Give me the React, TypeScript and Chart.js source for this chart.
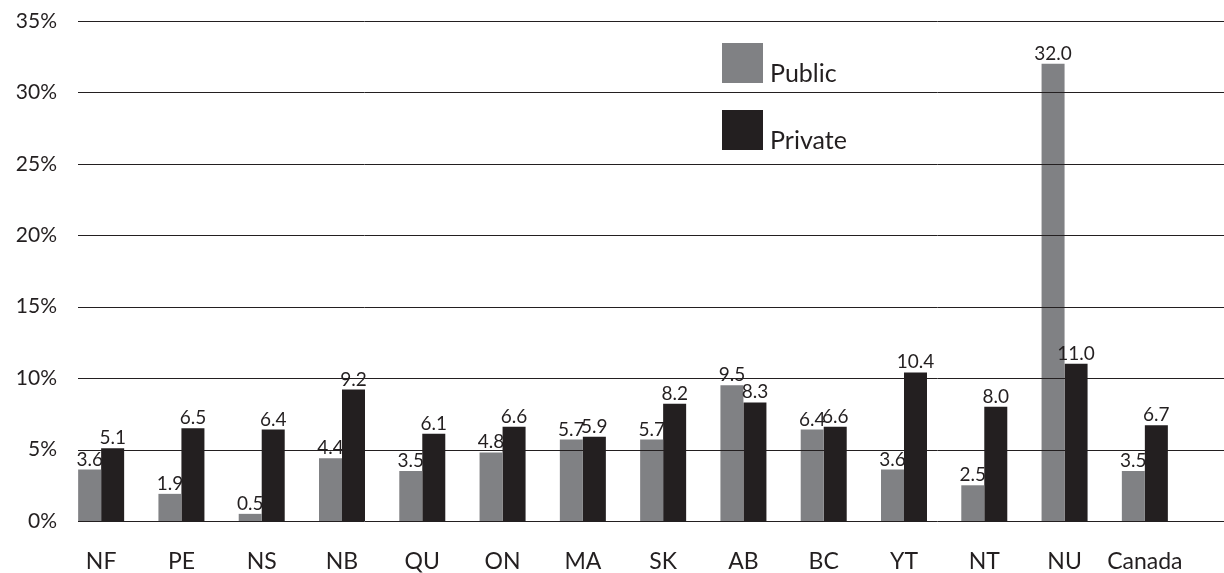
import React, { useEffect, useRef } from "react";
import { Chart, registerables } from "chart.js";

Chart.register(...registerables);

const categories = ["NF", "PE", "NS", "NB", "QU", "ON", "MA", "SK", "AB", "BC", "YT", "NT", "NU", "Canada"];
const publicValues = [3.6, 1.9, 0.5, 4.4, 3.5, 4.8, 5.7, 5.7, 9.5, 6.4, 3.6, 2.5, 32.0, 3.5];
const privateValues = [5.1, 6.5, 6.4, 9.2, 6.1, 6.6, 5.9, 8.2, 8.3, 6.6, 10.4, 8.0, 11.0, 6.7];
const yTicks = [0, 5, 10, 15, 20, 25, 30, 35];
const seriesNames = ["Public", "Private"];
const seriesColors = ["#808184", "#231f20"];

const FONT = "Lato, 'Open Sans', sans-serif";
const INK = "#231f20";

const gridOverPlugin = {
  id: "gridOver",
  afterDatasetsDraw(chart: any) {
    const ctx = chart.ctx;
    const y = chart.scales.y;
    ctx.save();
    ctx.strokeStyle = INK;
    ctx.lineWidth = 1;
    const x0 = chart.chartArea.left + 17;
    yTicks.forEach((v) => {
      const py = Math.round(y.getPixelForValue(v)) + 0.5;
      ctx.beginPath();
      ctx.moveTo(x0, py);
      ctx.lineTo(chart.width, py);
      ctx.stroke();
    });
    ctx.restore();
  },
};

const valueLabelPlugin = {
  id: "valueLabels",
  afterDatasetsDraw(chart: any) {
    const ctx = chart.ctx;
    ctx.save();
    ctx.font = `19px ${FONT}`;
    ctx.fillStyle = INK;
    ctx.textAlign = "center";
    ctx.textBaseline = "alphabetic";
    chart.data.datasets.forEach((ds: any, di: number) => {
      const meta = chart.getDatasetMeta(di);
      meta.data.forEach((el: any, i: number) => {
        ctx.fillText(Number(ds.data[i]).toFixed(1), el.x, el.y - 4);
      });
    });
    ctx.restore();
  },
};

const legendPlugin = {
  id: "customLegend",
  afterDraw(chart: any) {
    const ctx = chart.ctx;
    ctx.save();
    const bx = 722;
    const tops = [43, 110];
    ctx.font = `25px ${FONT}`;
    ctx.textAlign = "left";
    ctx.textBaseline = "alphabetic";
    seriesNames.forEach((name, i) => {
      ctx.fillStyle = seriesColors[i];
      ctx.fillRect(bx, tops[i], 41, 40);
      ctx.fillStyle = INK;
      ctx.fillText(name, bx + 48, tops[i] + 39);
    });
    ctx.restore();
  },
};

export default function App() {
  const ref = useRef<HTMLCanvasElement | null>(null);

  useEffect(() => {
    if (!ref.current) return;
    const chart = new Chart(ref.current, {
      type: "bar",
      data: {
        labels: categories,
        datasets: [
          {
            label: seriesNames[0],
            data: publicValues,
            backgroundColor: seriesColors[0],
            categoryPercentage: 0.573,
            barPercentage: 1,
          },
          {
            label: seriesNames[1],
            data: privateValues,
            backgroundColor: seriesColors[1],
            categoryPercentage: 0.573,
            barPercentage: 1,
          },
        ],
      },
      options: {
        animation: false,
        responsive: false,
        maintainAspectRatio: false,
        layout: { padding: { top: 21, right: 39, bottom: 0, left: 0 } },
        plugins: {
          legend: { display: false },
          tooltip: { enabled: false },
        },
        scales: {
          x: {
            grid: { display: false, drawTicks: false },
            border: { display: false },
            ticks: {
              color: INK,
              font: { family: FONT, size: 23 },
              padding: 27,
              maxRotation: 0,
              autoSkip: false,
            },
            afterFit: (s: any) => {
              s.height = 52;
            },
          },
          y: {
            min: 0,
            max: 35,
            grid: { display: false, drawTicks: false },
            border: { display: false },
            afterBuildTicks: (s: any) => {
              s.ticks = yTicks.map((v) => ({ value: v }));
            },
            ticks: {
              color: INK,
              font: { family: FONT, size: 21 },
              padding: 4,
              callback: (v: any) => `${v}%`,
            },
            afterFit: (s: any) => {
              s.width = 61;
            },
          },
        },
      },
      plugins: [gridOverPlugin, valueLabelPlugin, legendPlugin],
    });
    return () => chart.destroy();
  }, []);

  return (
    <div style={{ position: "fixed", left: 0, top: 0, width: 1224, height: 573, background: "#fff" }}>
      <canvas ref={ref} width={1224} height={573} style={{ width: 1224, height: 573 }} />
    </div>
  );
}
